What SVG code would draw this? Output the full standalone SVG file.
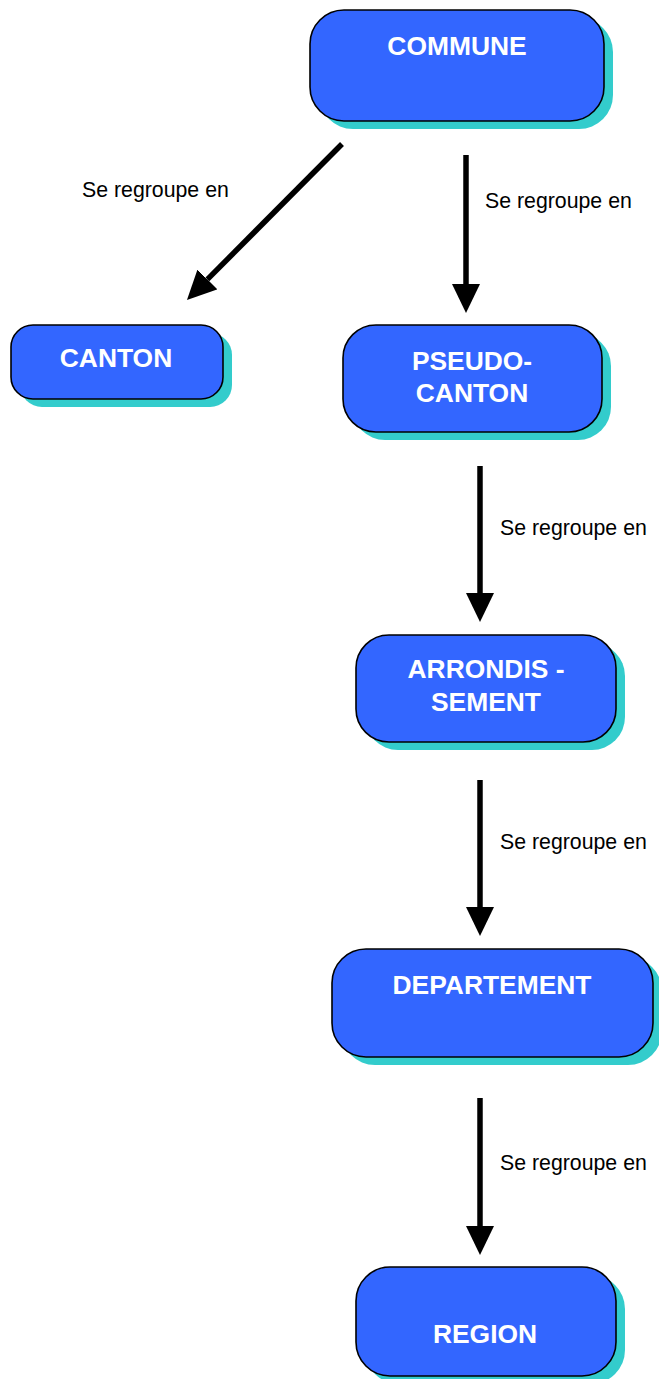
<svg xmlns="http://www.w3.org/2000/svg" width="659" height="1379" viewBox="0 0 659 1379">
<style>
.shadow{fill:#33CCCC;stroke:none}
.box{fill:#3366FF;stroke:#000;stroke-width:1.6}
.t{font-family:"Liberation Sans",Arial,sans-serif;font-weight:bold;font-size:26.4px;fill:#fff;text-anchor:middle}
.lbl{font-family:"Liberation Sans",Arial,sans-serif;font-size:21.3px;fill:#000}
.conn{stroke:#000;stroke-width:5.5;fill:none;marker-end:url(#ah)}
</style>
<defs>
<marker id="ah" markerUnits="userSpaceOnUse" markerWidth="30" markerHeight="30" refX="0" refY="14" orient="auto" viewBox="0 0 30 30">
<path d="M0,0 L29,14 L0,28 Z" fill="#000"/>
</marker>
</defs>
<g id="connectors">
<line class="conn" x1="342" y1="144" x2="207.4" y2="279.4"/>
<line class="conn" x1="466" y1="155" x2="466" y2="284"/>
<line class="conn" x1="480" y1="466" x2="480" y2="593"/>
<line class="conn" x1="480" y1="780" x2="480" y2="907"/>
<line class="conn" x1="480" y1="1098" x2="480" y2="1226"/>
<text class="lbl" x="82" y="197">Se regroupe en</text>
<text class="lbl" x="485" y="208">Se regroupe en</text>
<text class="lbl" x="500" y="535">Se regroupe en</text>
<text class="lbl" x="500" y="849">Se regroupe en</text>
<text class="lbl" x="500" y="1170">Se regroupe en</text>
</g>
<g id="commune">
<rect class="shadow" x="319" y="18" width="294" height="111" rx="34"/>
<rect class="box" x="310" y="10" width="294" height="111" rx="34"/>
<text class="t" x="457" y="55">COMMUNE</text>
</g>
<g id="canton">
<rect class="shadow" x="20" y="333" width="212" height="74" rx="22"/>
<rect class="box" x="11" y="325" width="212" height="74" rx="22"/>
<text class="t" x="116" y="367">CANTON</text>
</g>
<g id="pseudo-canton">
<rect class="shadow" x="352" y="333" width="259" height="107" rx="33"/>
<rect class="box" x="343" y="325" width="259" height="107" rx="33"/>
<text class="t" x="472" y="370">PSEUDO-</text>
<text class="t" x="472" y="402">CANTON</text>
</g>
<g id="arrondissement">
<rect class="shadow" x="365" y="643" width="260" height="107" rx="33"/>
<rect class="box" x="356" y="635" width="260" height="107" rx="33"/>
<text class="t" x="486" y="678">ARRONDIS -</text>
<text class="t" x="486" y="711">SEMENT</text>
</g>
<g id="departement">
<rect class="shadow" x="341" y="957" width="321" height="108" rx="34"/>
<rect class="box" x="332" y="949" width="321" height="108" rx="34"/>
<text class="t" x="492" y="994">DEPARTEMENT</text>
</g>
<g id="region">
<rect class="shadow" x="365" y="1275" width="260" height="109" rx="34"/>
<rect class="box" x="356" y="1267" width="260" height="109" rx="34"/>
<text class="t" x="485" y="1343">REGION</text>
</g>
</svg>
